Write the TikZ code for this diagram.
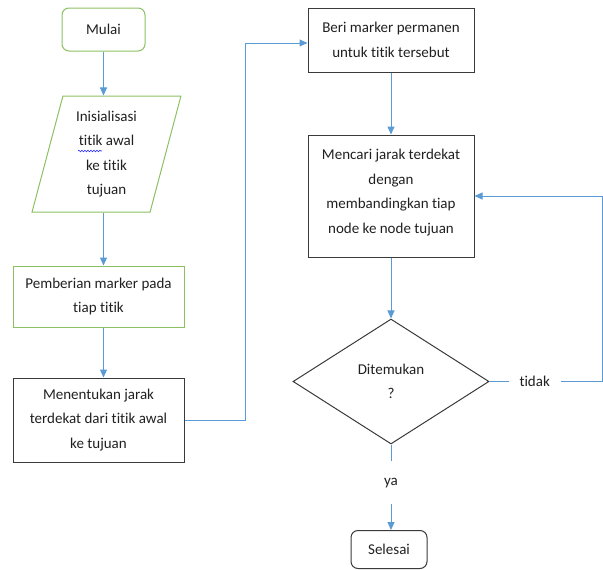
\documentclass[tikz,border=0pt]{standalone}
\usepackage{fontspec}
\setmainfont[Ligatures=NoCommon]{Carlito}
\usetikzlibrary{shapes.geometric,arrows.meta,decorations.pathmorphing}
\definecolor{gborder}{HTML}{8CC063}
\definecolor{arrblue}{HTML}{5B9BD5}
\definecolor{dborder}{HTML}{3A3A3A}
\definecolor{txt}{HTML}{202020}
\begin{document}
\begin{tikzpicture}[x=1pt,y=-1pt,
  every node/.style={font=\fontsize{15}{24.5}\selectfont, text=txt, align=center, inner sep=0pt},
  gbox/.style={draw=gborder, line width=1pt},
  kbox/.style={draw=dborder, line width=1pt},
  arr/.style={draw=arrblue, line width=1pt, -{Triangle[length=8pt,width=7pt]}},
  gap/.style={fill=white}]
\useasboundingbox (0,0) rectangle (603,570);
\node[gbox, rounded corners=7pt, minimum width=83pt, minimum height=43pt] (mulai) at (103.5,29.5) {Mulai};
\node[gbox, trapezium, trapezium left angle=76, trapezium right angle=104, trapezium stretches=true, minimum width=149pt, minimum height=116pt] (init) at (106.5,154) {Inisialisasi\\titik awal\\ke titik\\tujuan};
\node[gbox, minimum width=171pt, minimum height=61pt] (pemb) at (98.5,296.5) {Pemberian marker pada\\tiap titik};
\node[kbox, minimum width=171pt, minimum height=84pt] (ment) at (98.5,420) {Menentukan jarak\\terdekat dari titik awal\\ke tujuan};
\node[kbox, minimum width=166pt, minimum height=64pt] (beri) at (391,40) {Beri marker permanen\\untuk titik tersebut};
\node[kbox, minimum width=166pt, minimum height=122pt, text depth=9pt] (cari) at (391,196) {Mencari jarak terdekat\\dengan\\membandingkan tiap\\node ke node tujuan};
\node[kbox, diamond, minimum width=196pt, minimum height=125pt] (dit) at (391,381.5) {Ditemukan\\?};
\node[kbox, rounded corners=7pt, minimum width=76pt, minimum height=38pt] (sel) at (389,549.5) {Selesai};
\draw[arr] (mulai.south) -- (mulai.south |- init.north);
\draw[arr] (init.south -| mulai.south) -- (pemb.north -| mulai.south);
\draw[arr] (pemb.south -| mulai.south) -- (ment.north -| mulai.south);
\draw[arr] (ment.east) -- ++(61,0) |- ([yshift=-3pt]beri.west);
\draw[arr] (beri) -- (cari);
\draw[arr] (cari) -- (dit);
\draw[arr] (dit.east) -- node[pos=0.4, gap, inner xsep=11pt, inner ysep=3pt] (tidak) {tidak} ++(113,0) |- (cari.east);
\draw[arr] (dit.south) -- node[pos=0.44, gap, text height=10pt, text depth=3pt, inner ysep=15pt] (ya) {ya} (dit.south |- sel.north);
\draw[blue!80!white, line width=0.6pt, decorate, decoration={snake, amplitude=0.8pt, segment length=3pt}] (78,151) -- (102,151);
\end{tikzpicture}
\end{document}
